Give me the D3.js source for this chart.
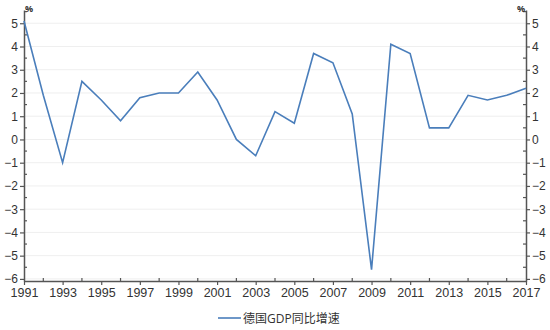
<!DOCTYPE html>
<html>
<head>
<meta charset="utf-8">
<script src="https://cdn.jsdelivr.net/npm/d3@7/dist/d3.min.js"></script>
<style>
  html, body { margin: 0; padding: 0; background: #fff; }
  svg { display: block; font-family: "Open Sans", "Noto Sans CJK SC", sans-serif; }
</style>
</head>
<body>
<svg id="chart" width="550" height="330"></svg>
<script>
// German real GDP growth, year over year (%)
const years = d3.range(1991, 2018);
const growth = [5.1, 1.9, -1.0, 2.5, 1.7, 0.8, 1.8, 2.0, 2.0, 2.9,
                1.7, 0.0, -0.7, 1.2, 0.7, 3.7, 3.3, 1.1, -5.6, 4.1,
                3.7, 0.5, 0.5, 1.9, 1.7, 1.9, 2.2];
const yTicks = [-6, -5, -4, -3, -2, -1, 0, 1, 2, 3, 4, 5];
const xLabelYears = d3.range(1991, 2018, 2);
const seriesName = "德国GDP同比增速";
const unitLabel = "%";

(function () {
const svg = d3.select("#chart");
const plotLeft = 24, plotRight = 526, plotTop = 10, plotBottom = 281;

const x = d3.scaleLinear().domain([1991, 2017]).range([plotLeft, plotRight]);
const y = d3.scaleLinear().domain([-6.09, 5.57]).range([plotBottom, plotTop]);

const axisColor = "#555";
const textColor = "#333";

// horizontal gridlines
svg.append("g")
  .selectAll("line")
  .data(yTicks)
  .join("line")
  .attr("x1", plotLeft).attr("x2", plotRight)
  .attr("y1", d => y(d)).attr("y2", d => y(d))
  .attr("stroke", "#efefef").attr("stroke-width", 1);

// minor ticks every half unit
const minor = d3.range(-6, 5.6, 0.5).filter(v => !Number.isInteger(v));

function styleAxis(g) {
  g.selectAll("path.domain").attr("stroke", axisColor).attr("stroke-width", 1.5);
  g.selectAll(".tick line").attr("stroke", axisColor).attr("stroke-width", 1.2);
  g.selectAll(".tick text").attr("fill", textColor).style("font-size", "12px");
}

// left axis
const gl = svg.append("g").attr("transform", `translate(${plotLeft},0)`)
  .call(d3.axisLeft(y).tickValues(yTicks).tickSize(4).tickSizeOuter(0).tickPadding(2).tickFormat(d3.format("d")));
styleAxis(gl);
gl.append("g").selectAll("line").data(minor).join("line")
  .attr("x1", 0).attr("x2", 3)
  .attr("y1", d => y(d)).attr("y2", d => y(d))
  .attr("stroke", axisColor).attr("stroke-width", 1.2);

// right axis
const gr = svg.append("g").attr("transform", `translate(${plotRight},0)`)
  .call(d3.axisRight(y).tickValues(yTicks).tickSize(4).tickSizeOuter(0).tickPadding(2).tickFormat(d3.format("d")));
styleAxis(gr);
gr.append("g").selectAll("line").data(minor).join("line")
  .attr("x1", 0).attr("x2", -3)
  .attr("y1", d => y(d)).attr("y2", d => y(d))
  .attr("stroke", axisColor).attr("stroke-width", 1.2);

// bottom axis
const gb = svg.append("g").attr("transform", `translate(0,${plotBottom})`)
  .call(d3.axisBottom(x).tickValues(xLabelYears).tickSize(4).tickSizeOuter(0).tickPadding(3).tickFormat(d3.format("d")));
styleAxis(gb);
gb.selectAll(".tick text").style("font-size", "12.5px");
gb.append("g").selectAll("line").data(years.filter(d => (d - 1991) % 2 === 1)).join("line")
  .attr("x1", d => x(d)).attr("x2", d => x(d))
  .attr("y1", 0).attr("y2", -3)
  .attr("stroke", axisColor).attr("stroke-width", 1.2);

// unit labels
svg.append("text").attr("x", plotLeft + 1).attr("y", plotTop + 2)
  .attr("fill", textColor).style("font-size", "9px").style("font-weight", "bold").text(unitLabel);
svg.append("text").attr("x", plotRight - 1).attr("y", plotTop + 2).attr("text-anchor", "end")
  .attr("fill", textColor).style("font-size", "9px").style("font-weight", "bold").text(unitLabel);

// series line
const line = d3.line().x((d, i) => x(years[i])).y(d => y(d));
svg.append("path")
  .datum(growth)
  .attr("d", line)
  .attr("fill", "none")
  .attr("stroke", "#4a7ebb")
  .attr("stroke-width", 1.6)
  .attr("stroke-linejoin", "miter");

// legend
const lg = svg.append("g").attr("transform", "translate(218,318)");
lg.append("line").attr("x1", 0).attr("x2", 23).attr("y1", 0).attr("y2", 0)
  .attr("stroke", "#4a7ebb").attr("stroke-width", 1.6);
lg.append("text").attr("x", 25).attr("y", 4.5)
  .attr("fill", textColor).style("font-size", "12px").text(seriesName);
})();
</script>
</body>
</html>
